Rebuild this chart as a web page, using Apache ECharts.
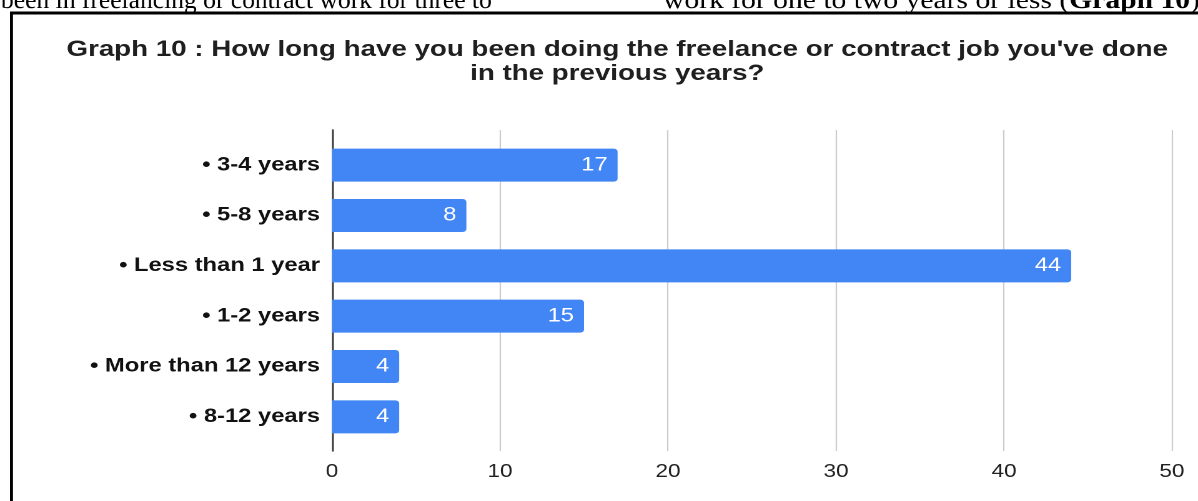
<!DOCTYPE html>
<html>
<head>
<meta charset="utf-8">
<script src="https://cdn.jsdelivr.net/npm/echarts@6/dist/echarts.min.js"></script>
<style>
  html, body { margin: 0; padding: 0; background: #fff; overflow: hidden; }
  /* the figure is laid out narrower and widened to the page, giving the broad lettering */
  #chart { width: 959px; height: 501px; transform: scaleX(1.2492); transform-origin: 0 0; }
</style>
</head>
<body>
<div id="chart"></div>
<script>
// Survey answers: how long respondents have done freelance / contract work
const categories = [
  '• 3-4 years',
  '• 5-8 years',
  '• Less than 1 year',
  '• 1-2 years',
  '• More than 12 years',
  '• 8-12 years'
];
const counts = [17, 8, 44, 15, 4, 4];
const axisMin = 0;
const axisMax = 50;
const axisStep = 10;

const titleText = "Graph 10 : How long have you been doing the freelance or contract job you've done\nin the previous years?";
const bodyTextLeft = 'been in freelancing or contract work for three to';
const bodyTextRightA = 'work for one to two years or less (';
const bodyTextRightB = 'Graph 10';
const bodyTextRightC = ').';

const S = 1198 / 959;          // horizontal widening applied by CSS
const px = v => v / S;         // page x -> layout x

const chart = echarts.init(document.getElementById('chart'), null, {
  renderer: 'canvas',
  devicePixelRatio: 2
});

const sans = 'Liberation Sans, Arial, sans-serif';
const serif = 'Liberation Serif, Times New Roman, serif';

chart.setOption({
  animation: false,
  backgroundColor: '#ffffff',
  title: {
    text: titleText,
    left: px(611),
    textAlign: 'center',
    top: 33,
    textStyle: {
      fontFamily: sans,
      fontSize: 22.2,
      fontWeight: 'bold',
      color: '#1f1f1f',
      lineHeight: 24
    }
  },
  graphic: [
    // page frame around the figure
    {
      type: 'line',
      shape: { x1: px(10), y1: 13, x2: 1000, y2: 13 },
      style: { stroke: '#000000', lineWidth: 3 },
      silent: true
    },
    {
      type: 'line',
      shape: { x1: px(11.5), y1: 12, x2: px(11.5), y2: 520 },
      style: { stroke: '#000000', lineWidth: 2.4 },
      silent: true
    },
    // running document text above the figure
    {
      type: 'text',
      x: px(1),
      y: 14,
      scaleX: 0.818,
      style: {
        text: bodyTextLeft,
        font: '25px ' + serif,
        fill: '#000000',
        textVerticalAlign: 'bottom'
      }
    },
    {
      type: 'text',
      x: px(663),
      y: 14,
      scaleX: 0.948,
      style: {
        text: '{a|' + bodyTextRightA + '}{b|' + bodyTextRightB + '}{a|' + bodyTextRightC + '}',
        fill: '#000000',
        textVerticalAlign: 'bottom',
        rich: {
          a: { fontFamily: serif, fontSize: 25, fill: '#000000' },
          b: { fontFamily: serif, fontSize: 25, fontWeight: 'bold', fill: '#000000' }
        }
      }
    }
  ],
  grid: [
    // gridline / tick-label area
    { left: px(332), right: 959 - px(1172), top: 130, bottom: 50, containLabel: false },
    // bar area
    { left: px(332), right: 959 - px(1172), top: 140, bottom: 59, containLabel: false }
  ],
  xAxis: [
    {
      gridIndex: 0,
      type: 'value',
      min: axisMin,
      max: axisMax,
      interval: axisStep,
      axisLine: { show: false },
      axisTick: { show: false },
      splitLine: { show: true, lineStyle: { color: '#cccccc', width: 1.1 } },
      axisLabel: {
        margin: 12,
        fontFamily: sans,
        fontSize: 18,
        color: '#222222'
      }
    },
    {
      gridIndex: 1,
      type: 'value',
      min: axisMin,
      max: axisMax,
      show: false
    }
  ],
  yAxis: [
    {
      gridIndex: 0,
      type: 'value',
      min: 0,
      max: 1,
      axisLine: { show: true, onZero: false, lineStyle: { color: '#333333', width: 1.4 } },
      axisTick: { show: false },
      axisLabel: { show: false },
      splitLine: { show: false }
    },
    {
      gridIndex: 1,
      type: 'category',
      data: categories,
      inverse: true,
      axisLine: { show: false },
      axisTick: { show: false },
      splitLine: { show: false },
      axisLabel: {
        margin: px(12),
        fontFamily: sans,
        fontSize: 19,
        fontWeight: 'bold',
        color: '#111111'
      }
    }
  ],
  series: [
    {
      type: 'bar',
      xAxisIndex: 1,
      yAxisIndex: 1,
      data: counts,
      barWidth: 33,
      z: 3,
      itemStyle: { color: '#4285f4', borderRadius: [0, 3, 3, 0] },
      label: {
        show: true,
        position: 'insideRight',
        distance: px(10),
        fontFamily: sans,
        fontSize: 19,
        color: '#ffffff'
      }
    }
  ]
});
</script>
</body>
</html>
